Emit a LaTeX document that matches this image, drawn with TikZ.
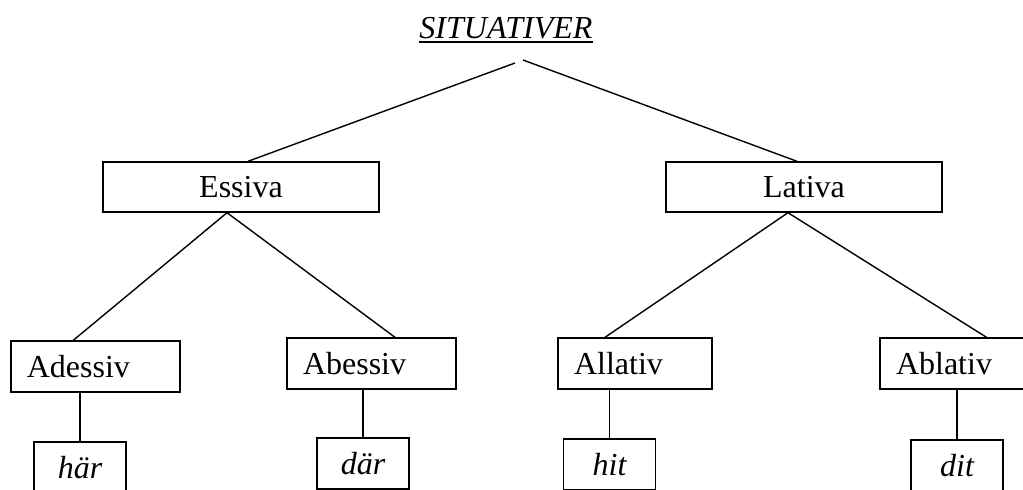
\documentclass[tikz,border=0pt]{standalone}
\usepackage{fontspec}
\setmainfont{Liberation Serif}
\usetikzlibrary{positioning}

\newcommand{\casefont}{\fontsize{16pt}{19pt}\selectfont}

\tikzset{
    topbox/.style={draw, line width=0.7pt, minimum width=138pt, minimum height=25pt, inner sep=0pt},
    casebox/.style={draw, line width=0.7pt, minimum height=25.5pt, inner xsep=8pt, inner ysep=0pt, align=left},
    wordbox/.style={draw, line width=0.7pt, minimum width=46pt, minimum height=25.5pt, inner sep=0pt, font=\casefont\itshape},
    branch/.style={line width=0.7pt}
}

\begin{document}
\begin{tikzpicture}[x=0.5pt, y=-0.5pt, font=\casefont]
        % Frame
        \clip (0,0) rectangle (1023,489);

        % Title and root point
        \node[anchor=base, inner sep=0pt] (sit) at (506,38) {\textit{SITUATIVER}};
        \draw[line width=1pt] ([yshift=-2pt]sit.base west) -- ([yshift=-2pt]sit.base east);
        \coordinate (apexL) at (515,63);
        \coordinate (apexR) at (523,60);

        % Second level
        \node[topbox] (essiva) at (241,187) {Essiva};
        \node[topbox] (lativa) at (804,187) {Lativa};

        % Third level
        \node[casebox, text width=68.5pt] (adessiv) at (95.3,366.5) {Adessiv};
        \node[casebox, text width=68.5pt] (abessiv) at (371.5,363.5) {Abessiv};
        \node[casebox, text width=61pt] (allativ) at (635,363.5) {Allativ};
        \node[casebox, text width=66.5pt] (ablativ) at (962.5,363.5) {Ablativ};

        % Words
        \node[wordbox] (har) at (80,467.5) {här};
        \node[wordbox] (dar) at (363,463.5) {där};
        \node[wordbox] (hit) at (609.5,464.5) {hit};
        \node[wordbox] (dit) at (957,465.5) {dit};

        % Branches
        \draw[branch] (apexL) -- ([xshift=3.5pt]essiva.north);
        \draw[branch] (apexR) -- ([xshift=-3.5pt]lativa.north);
        \draw[branch] ([xshift=-11pt]adessiv.north) -- ([xshift=-7pt]essiva.south) -- ([xshift=11.75pt]abessiv.north);
        \draw[branch] ([xshift=-15pt]allativ.north) -- ([xshift=-8pt]lativa.south) -- ([xshift=12pt]ablativ.north);

        % Stems down to the words
        \draw[branch] (har.north) -- (har.north |- adessiv.south);
        \draw[branch] (dar.north) -- (dar.north |- abessiv.south);
        \draw[branch] (hit.north) -- (hit.north |- allativ.south);
        \draw[branch] (dit.north) -- (dit.north |- ablativ.south);
    \end{tikzpicture}
\end{document}
